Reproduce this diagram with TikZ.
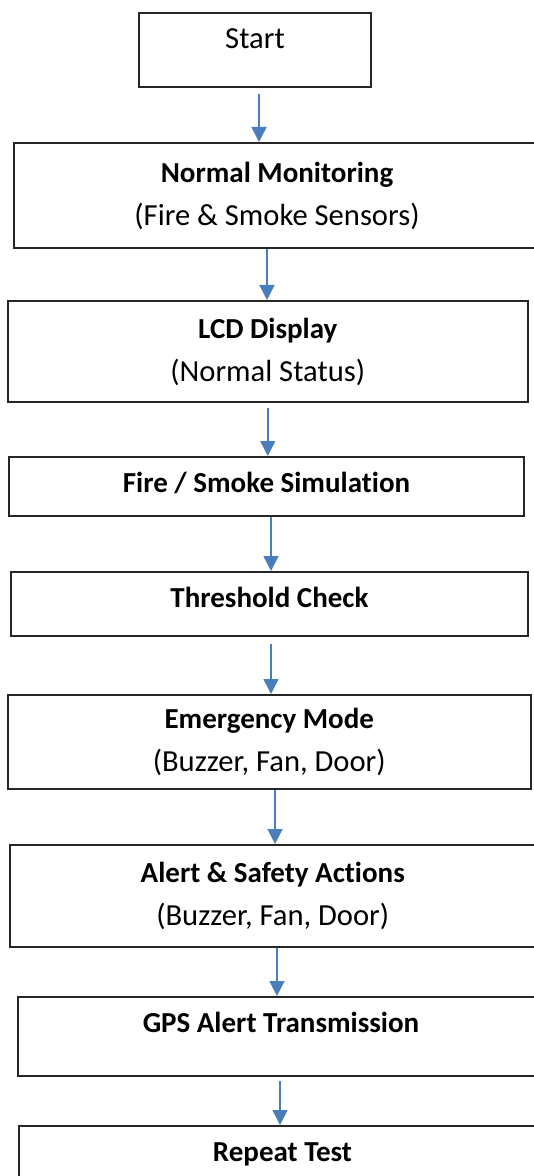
\documentclass[tikz,border=0pt]{standalone}
\usepackage{fontspec}
\setmainfont{Carlito}[Ligatures=NoCommon]
\usetikzlibrary{arrows.meta, positioning}
\definecolor{arrowblue}{HTML}{4A7EBB}

\begin{document}
\begin{tikzpicture}[
        x=0.5pt, y=-0.5pt,
        box/.style={rectangle, draw=black!85, line width=1pt, align=center, inner xsep=0pt, inner ysep=0pt, font=\fontsize{14.5}{21.5}\selectfont},
        arrow/.style={-{Triangle[width=7.5pt, length=7.5pt]}, draw=arrowblue, line width=0.75pt}
    ]
        \clip (0,0) rectangle (534,1176);

        \node[box, minimum width=116pt, text height=18pt, text depth=19pt] (start) at (255,50) {\fontsize{15.3}{21.5}\selectfont Start};
        \node[box, minimum width=263pt, minimum height=52.5pt] (monitor) at (277,195.5) {\textbf{Normal Monitoring}\\\fontsize{15.3}{21.5}\selectfont(Fire \& Smoke Sensors)};
        \node[box, minimum width=260.25pt, minimum height=50.5pt] (lcd) at (267.75,351.5) {\textbf{LCD Display}\\\fontsize{15.3}{21.5}\selectfont(Normal Status)};
        \node[box, minimum width=257.5pt, text height=17.5pt, text depth=12pt] (sim) at (266.5,486.5) {\textbf{Fire / Smoke Simulation}};
        \node[box, minimum width=258.5pt, text height=17.5pt, text depth=14.5pt] (check) at (269.5,604) {\textbf{Threshold Check}};
        \node[box, minimum width=261.75pt, minimum height=47pt] (emerg) at (269.25,742) {\textbf{Emergency Mode}\\\fontsize{15.3}{21.5}\selectfont(Buzzer, Fan, Door)};
        \node[box, minimum width=263.25pt, minimum height=51pt] (safety) at (272.75,896) {\textbf{Alert \& Safety Actions}\\\fontsize{15.3}{21.5}\selectfont(Buzzer, Fan, Door)};
        \node[box, minimum width=263pt, text height=17.5pt, text depth=22pt] (gps) at (281,1036.5) {\textbf{GPS Alert Transmission}};
        \node[box, minimum width=263.5pt, text height=17.5pt, text depth=22pt] (repeat) at (282.5,1165.5) {\textbf{Repeat Test}};

        \draw[arrow] ([shift={(4,6)}]start.south) -- ([xshift=2pt]start.south |- monitor.north);
        \draw[arrow] ([xshift=-5pt]monitor.south) -- ([xshift=-5pt]monitor.south |- lcd.north);
        \draw[arrow] ([yshift=-2.5pt]lcd.south) -- (lcd.south |- sim.north);
        \draw[arrow] ([xshift=2.25pt]sim.south) -- ([xshift=2.25pt]sim.south |- check.north);
        \draw[arrow] ([shift={(1.5,7)}]check.south) -- ([xshift=0.75pt]check.south |- emerg.north);
        \draw[arrow] ([xshift=2.9pt]emerg.south) -- ([xshift=2.9pt]emerg.south |- safety.north);
        \draw[arrow] ([xshift=2.1pt]safety.south) -- ([xshift=2.1pt]safety.south |- gps.north);
        \draw[arrow] ([shift={(-1,4)}]gps.south) -- ([xshift=-0.5pt]gps.south |- repeat.north);
    \end{tikzpicture}
\end{document}
